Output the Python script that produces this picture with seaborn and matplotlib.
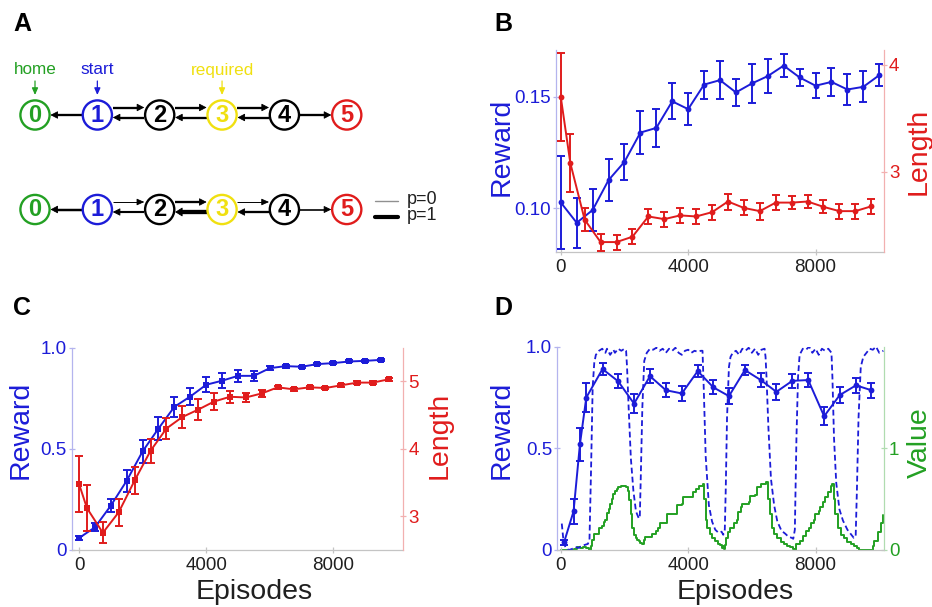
import numpy as np
import pandas as pd
import matplotlib
matplotlib.use("Agg")
import matplotlib.pyplot as plt
import seaborn as sns
from matplotlib.patches import Circle

# ------------------------------------------------------------------ data
# Panel A: chain of states
node_names = ["0", "1", "2", "3", "4", "5"]
node_kind = ["home", "start", "plain", "required", "plain", "goal"]
top_tags = ["home", "start", "", "required", "", ""]
edges = [(1, 0), (1, 2), (2, 1), (2, 3), (3, 2), (3, 4), (4, 3), (4, 5)]
p_top = [0.4, 0.4, 0.4, 0.4, 0.4, 0.4, 0.4, 0.4]
p_bottom = [0.45, 0.0, 0.35, 0.4, 1.0, 0.0, 0.4, 0.2]
legend_p = ["p=0", "p=1"]

# Panel B
b_rew_ep = [0, 500, 1000, 1500, 2000, 2500, 3000, 3500, 4000, 4500, 5000,
            5500, 6000, 6500, 7000, 7500, 8000, 8500, 9000, 9500, 10000]
b_reward = [0.1027, 0.0936, 0.0993, 0.1127, 0.1209, 0.1340, 0.1361, 0.1480,
            0.1445, 0.1555, 0.1575, 0.1520, 0.1560, 0.1593, 0.1640, 0.1587,
            0.1550, 0.1567, 0.1533, 0.1545, 0.1597]
b_reward_err = [0.021, 0.0113, 0.0093, 0.0095, 0.0082, 0.0095, 0.0084, 0.008,
                0.0072, 0.0063, 0.0084, 0.0061, 0.0088, 0.0075, 0.0052, 0.004,
                0.0055, 0.0063, 0.007, 0.007, 0.005]
b_len_ep = [0, 300, 750, 1250, 1750, 2250, 2750, 3250, 3750, 4250, 4750,
            5250, 5750, 6250, 6750, 7250, 7750, 8250, 8750, 9250, 9750]
b_length = [3.70, 3.08, 2.55, 2.34, 2.34, 2.39, 2.58, 2.555, 2.59, 2.58, 2.62,
            2.72, 2.66, 2.63, 2.71, 2.71, 2.72, 2.67, 2.63, 2.63, 2.675]
b_length_err = [0.41, 0.27, 0.11, 0.08, 0.07, 0.07, 0.07, 0.07, 0.07, 0.07,
                0.07, 0.075, 0.07, 0.08, 0.07, 0.06, 0.06, 0.06, 0.07, 0.07, 0.07]

# Panel C
c_rew_ep = [0, 500, 1000, 1500, 2000, 2500, 3000, 3500, 4000, 4500, 5000,
            5500, 6000, 6500, 7000, 7500, 8000, 8500, 9000, 9500]
c_reward = [0.059, 0.112, 0.219, 0.342, 0.487, 0.600, 0.707, 0.758, 0.816,
            0.836, 0.860, 0.860, 0.898, 0.908, 0.905, 0.918, 0.923, 0.931,
            0.934, 0.939]
c_reward_err = [0.008, 0.02, 0.033, 0.055, 0.057, 0.055, 0.051, 0.044, 0.037,
                0.036, 0.028, 0.025, 0.01, 0.008, 0.006, 0.006, 0.005, 0.005,
                0.005, 0.005]
c_len_ep = [0, 250, 750, 1250, 1750, 2250, 2750, 3250, 3750, 4250, 4750,
            5250, 5750, 6250, 6750, 7250, 7750, 8250, 8750, 9250, 9750]
c_length = [3.48, 3.12, 2.755, 3.06, 3.53, 3.97, 4.30, 4.47, 4.58, 4.70, 4.77,
            4.76, 4.82, 4.91, 4.88, 4.91, 4.90, 4.94, 4.98, 4.98, 5.03]
c_length_err = [0.42, 0.34, 0.155, 0.2, 0.2, 0.18, 0.16, 0.16, 0.15, 0.12,
                0.09, 0.07, 0.05, 0.02, 0.02, 0.02, 0.02, 0.02, 0.02, 0.02, 0.02]

# Panel D
d_rew_ep = [100, 400, 600, 800, 1310, 1800, 2300, 2800, 3300, 3800, 4300,
            4790, 5280, 5780, 6280, 6770, 7270, 7770, 8270, 8760, 9270, 9750]
d_reward = [0.037, 0.19, 0.52, 0.75, 0.89, 0.83, 0.72, 0.855, 0.786, 0.77,
            0.88, 0.80, 0.757, 0.885, 0.836, 0.778, 0.832, 0.836, 0.658,
            0.762, 0.81, 0.786]
d_reward_err = [0.01, 0.06, 0.08, 0.07, 0.03, 0.035, 0.045, 0.033, 0.035,
                0.038, 0.03, 0.035, 0.04, 0.023, 0.035, 0.038, 0.035, 0.034,
                0.043, 0.038, 0.037, 0.037]
d_rate_ep = [30, 80, 150, 250, 350, 450, 550, 650, 750, 850, 900, 950, 1000,
             1050, 1100, 1200, 1300, 1400, 1450, 1550, 1650, 1700, 1800, 1900,
             2000, 2050, 2080, 2130, 2200, 2280, 2360, 2450, 2480, 2510, 2560,
             2620, 2700, 2800, 2900, 3000, 3100, 3200, 3300, 3400, 3500, 3600,
             3700, 3800, 3900, 4000, 4100, 4200, 4300, 4400, 4450, 4490, 4550,
             4650, 4750, 4850, 4950, 5050, 5100, 5150, 5180, 5220, 5280, 5330,
             5400, 5500, 5600, 5700, 5800, 5900, 6000, 6100, 6200, 6300, 6400,
             6430, 6460, 6520, 6600, 6700, 6800, 6930, 7050, 7150, 7250, 7300,
             7350, 7400, 7450, 7500, 7600, 7700, 7800, 7900, 8000, 8100, 8200,
             8300, 8400, 8500, 8530, 8580, 8650, 8750, 8860, 9000, 9100, 9200,
             9260, 9300, 9350, 9420, 9500, 9600, 9700, 9800, 9900, 10000, 10130]
d_rate = [0.13, 0.05, 0.01, 0.0, 0.005, 0.015, 0.01, 0.02, 0.025, 0.03, 0.05,
          0.4, 0.8, 0.92, 0.96, 0.98, 0.99, 0.97, 0.99, 0.96, 0.985, 0.97, 0.99,
          0.98, 0.99, 0.98, 0.9, 0.7, 0.45, 0.29, 0.19, 0.155, 0.16, 0.35, 0.7,
          0.93, 0.97, 0.99, 0.985, 0.995, 0.98, 0.99, 0.97, 0.99, 0.98, 0.995,
          0.97, 0.96, 0.98, 0.985, 0.97, 0.98, 0.975, 0.98, 0.98, 0.79, 0.46,
          0.22, 0.14, 0.10, 0.085, 0.09, 0.075, 0.10, 0.3, 0.65, 0.9, 0.95,
          0.97, 0.98, 0.96, 0.99, 0.98, 0.995, 0.97, 0.99, 0.96, 0.985, 0.99,
          0.95, 0.85, 0.6, 0.35, 0.22, 0.14, 0.095, 0.08, 0.065, 0.06, 0.055,
          0.1, 0.55, 0.85, 0.96, 0.99, 0.985, 1.0, 0.97, 0.99, 0.96, 0.99,
          0.98, 0.99, 0.97, 0.85, 0.55, 0.33, 0.2, 0.145, 0.1, 0.08, 0.06,
          0.065, 0.3, 0.65, 0.9, 0.95, 0.97, 0.99, 0.985, 1.0, 0.97, 0.98]
d_value_ep = [0, 200, 400, 500, 600, 700, 800, 900, 950, 980, 1050, 1150, 1200,
              1300, 1350, 1400, 1450, 1500, 1550, 1600, 1650, 1700, 1750, 1800,
              1900, 2000, 2050, 2100, 2150, 2200, 2250, 2300, 2350, 2400, 2450,
              2500, 2550, 2600, 2650, 2800, 2850, 3000, 3050, 3100, 3300, 3330,
              3600, 3640, 3800, 3850, 4100, 4150, 4250, 4350, 4450, 4490, 4550,
              4600, 4680, 4750, 4850, 4950, 5000, 5050, 5100, 5130, 5150, 5200,
              5250, 5300, 5450, 5520, 5570, 5650, 5700, 5900, 5930, 6100, 6150,
              6300, 6450, 6500, 6560, 6620, 6700, 6780, 6900, 7000, 7100, 7200,
              7300, 7350, 7400, 7500, 7600, 7700, 7800, 7870, 7950, 7980, 8100,
              8130, 8230, 8300, 8400, 8500, 8530, 8570, 8620, 8700, 8800, 8900,
              9000, 9100, 9200, 9300, 9350, 9750, 9800, 9850, 9950, 10050, 10130]
d_value = [0.0, 0.0, 0.01, 0.03, 0.02, 0.03, 0.02, 0.0, 0.04, 0.1, 0.16, 0.16,
           0.22, 0.24, 0.28, 0.3, 0.36, 0.4, 0.45, 0.5, 0.55, 0.58, 0.6, 0.62,
           0.63, 0.63, 0.62, 0.58, 0.49, 0.35, 0.22, 0.15, 0.12, 0.1, 0.09,
           0.07, 0.06, 0.1, 0.125, 0.125, 0.16, 0.19, 0.22, 0.27, 0.27, 0.355,
           0.355, 0.44, 0.45, 0.52, 0.52, 0.57, 0.6, 0.63, 0.65, 0.5, 0.3,
           0.22, 0.16, 0.12, 0.09, 0.06, 0.05, 0.02, 0.04, 0.01, 0.05, 0.12,
           0.18, 0.22, 0.27, 0.3, 0.37, 0.42, 0.45, 0.47, 0.535, 0.54, 0.62,
           0.65, 0.67, 0.5, 0.35, 0.22, 0.16, 0.12, 0.08, 0.06, 0.04, 0.03,
           0.01, 0.0, 0.06, 0.09, 0.14, 0.19, 0.22, 0.27, 0.3, 0.355, 0.38,
           0.42, 0.47, 0.52, 0.57, 0.63, 0.65, 0.5, 0.35, 0.22, 0.15, 0.12,
           0.08, 0.06, 0.04, 0.02, 0.0, 0.0, 0.04, 0.09, 0.18, 0.27, 0.34]

x_ticks = [0, 4000, 8000]

# ------------------------------------------------------------------ style
sns.set_theme(style="white")
plt.rcParams["font.family"] = ["Liberation Sans", "DejaVu Sans"]

BLUE = "#1c1cd8"
RED = "#e01c1c"
GREEN = "#23a023"
YELLOW = "#f0e010"
SP_BLUE = "#b4b4ee"
SP_RED = "#f2b0b0"
SP_GREEN = "#b0dcb0"
SP_GRAY = "#c4c4c4"
kind_color = {"home": GREEN, "start": BLUE, "plain": "black",
              "required": YELLOW, "goal": RED}

W, H = 932, 607
fig = plt.figure(figsize=(W / 100, H / 100), dpi=100)


def rect(l, t, r, b):
    return [l / W, 1 - b / H, (r - l) / W, (b - t) / H]


def ftext(x, y, s, **kw):
    fig.text(x / W, 1 - y / H, s, **kw)


# ------------------------------------------------------------------ panel A
axA = fig.add_axes([0, 0.5, 0.5, 0.5])
axA.set_xlim(0, W / 2)
axA.set_ylim(H / 2, 0)
axA.axis("off")

x0, dx, R = 35.0, 62.35, 14.6
rows_y = [115.0, 209.5]
cx = [x0 + i * dx for i in range(len(node_names))]


def arrow(ax, xs, xe, y, lw, col="black", hw=0.22):
    d = 1 if xe > xs else -1
    ax.plot([xs, xe - d * 4], [y, y], color=col, lw=lw, solid_capstyle="butt",
            zorder=2)
    ax.annotate("", xy=(xe, y), xytext=(xe - d * 7, y),
                arrowprops=dict(arrowstyle=f"-|>,head_length=0.45,head_width={hw}",
                                lw=0.6, color=col, shrinkA=0, shrinkB=0,
                                mutation_scale=10), zorder=2)


for ry, plist in zip(rows_y, [p_top, p_bottom]):
    for i, name in enumerate(node_names):
        col = kind_color[node_kind[i]]
        axA.add_patch(Circle((cx[i], ry), R, facecolor="white", edgecolor=col,
                             lw=1.7, zorder=3))
        axA.text(cx[i], ry + 0.5, name, color=col, fontsize=17,
                 fontweight="bold", ha="center", va="center", zorder=4)
    for (a, b), p in zip(edges, plist):
        pair = (b, a) in edges
        if b > a:
            y = ry - 7.5 if pair else ry
            xs, xe = cx[a] + R + 0.8, cx[b] - R - 0.8
        else:
            y = ry + 2.5 if pair else ry
            xs, xe = cx[a] - R - 0.8, cx[b] + R + 0.8
        arrow(axA, xs, xe, y, 0.7 + 2.4 * p, hw=0.2 + 0.08 * p)

for i, tag in enumerate(top_tags):
    if not tag:
        continue
    col = kind_color[node_kind[i]]
    axA.text(cx[i], 70, tag, color=col, fontsize=12.3, ha="center", va="center")
    axA.annotate("", xy=(cx[i], 95), xytext=(cx[i], 81),
                 arrowprops=dict(arrowstyle="-|>,head_length=0.45,head_width=0.2",
                                 lw=0.9, color=col, shrinkA=0, shrinkB=0,
                                 mutation_scale=9))

axA.plot([375, 398], [200.5, 200.5], color="#909090", lw=1.0)
axA.plot([375, 398], [216.5, 216.5], color="black", lw=3.0)
axA.text(407, 199, legend_p[0], fontsize=13, ha="left", va="center", color="#202020")
axA.text(407, 215.5, legend_p[1], fontsize=13, ha="left", va="center", color="#202020")


# ------------------------------------------------------------------ helpers
def style_pair(ax, ax2, lcol, rcol, lspine, rspine):
    for s in ["top", "right"]:
        ax.spines[s].set_visible(False)
    ax.spines["left"].set_color(lspine)
    ax.spines["bottom"].set_color(SP_GRAY)
    for s in ["top", "left", "bottom"]:
        ax2.spines[s].set_visible(False)
    ax2.spines["right"].set_visible(True)
    ax2.spines["right"].set_color(rspine)
    for sp in list(ax.spines.values()) + list(ax2.spines.values()):
        sp.set_linewidth(0.9)
    ax.tick_params(axis="y", colors=lspine, labelcolor=lcol, labelsize=13.5,
                   direction="inout", length=4, width=0.9, pad=1.5, left=True)
    ax.tick_params(axis="x", colors=SP_GRAY, labelcolor="#202020",
                   labelsize=13.5, direction="inout", length=4, width=0.9,
                   pad=3, bottom=True)
    ax2.tick_params(axis="y", colors=rspine, labelcolor=rcol, labelsize=13.5,
                    direction="inout", length=4, width=0.9, pad=1.5, right=True)
    ax.set_xticks(x_ticks)
    ax.set_xticklabels([str(t) for t in x_ticks])
    ax.set_xlabel("")
    ax.set_ylabel("")
    ax2.set_ylabel("")
    ax.grid(False)
    ax2.grid(False)
    ax.patch.set_alpha(0)


def series(ax, x, y, err, col, marker):
    sns.lineplot(x=x, y=y, ax=ax, color=col, lw=1.4, marker=marker,
                 markersize=4.2, markeredgewidth=0, markeredgecolor=col,
                 estimator=None, sort=False, zorder=3)
    ax.errorbar(x, y, yerr=err, fmt="none", ecolor=col, elinewidth=1.4,
                capsize=2.6, capthick=1.4, zorder=3)


# ------------------------------------------------------------------ panel B
axB = fig.add_axes(rect(556, 50, 884, 252))
axB2 = axB.twinx()
series(axB, b_rew_ep, b_reward, b_reward_err, BLUE, "o")
series(axB2, b_len_ep, b_length, b_length_err, RED, "o")
axB.set_xlim(-150, 10150)
axB.set_ylim(0.0805, 0.171)
axB2.set_ylim(2.247, 4.14)
axB.set_yticks([0.10, 0.15])
axB.set_yticklabels(["0.10", "0.15"])
axB2.set_yticks([3, 4])
axB2.set_yticklabels(["3", "4"])
style_pair(axB, axB2, BLUE, RED, SP_BLUE, SP_RED)

# ------------------------------------------------------------------ panel C
axC = fig.add_axes(rect(71.7, 347.5, 403.3, 550))
axC2 = axC.twinx()
series(axC, c_rew_ep, c_reward, c_reward_err, BLUE, "s")
series(axC2, c_len_ep, c_length, c_length_err, RED, "s")
axC.set_xlim(-230, 10200)
axC.set_ylim(0, 1.0)
axC2.set_ylim(2.5, 5.5)
axC.set_yticks([0, 0.5, 1.0])
axC.set_yticklabels(["0", "0.5", "1.0"])
axC2.set_yticks([3, 4, 5])
axC2.set_yticklabels(["3", "4", "5"])
style_pair(axC, axC2, BLUE, RED, SP_BLUE, SP_RED)

# ------------------------------------------------------------------ panel D
axD = fig.add_axes(rect(557, 346.7, 884, 550))
axD2 = axD.twinx()
sns.lineplot(x=d_value_ep, y=d_value, ax=axD2, color=GREEN, lw=1.4,
             estimator=None, sort=False, drawstyle="steps-post")
sns.lineplot(x=d_rate_ep, y=d_rate, ax=axD, color=BLUE, lw=1.3,
             estimator=None, sort=False, linestyle=(0, (3.2, 1.8)))
series(axD, d_rew_ep, d_reward, d_reward_err, BLUE, "o")
axD.set_zorder(axD2.get_zorder() + 1)
axD.set_xlim(-120, 10150)
axD.set_ylim(0, 1.0)
axD2.set_ylim(0, 2.0)
axD.set_yticks([0, 0.5, 1.0])
axD.set_yticklabels(["0", "0.5", "1.0"])
axD2.set_yticks([0, 1])
axD2.set_yticklabels(["0", "1"])
style_pair(axD, axD2, BLUE, GREEN, SP_BLUE, SP_GREEN)

# ------------------------------------------------------------------ labels
big = dict(fontsize=20.5, ha="center", va="center", rotation=90)
ftext(502, 147, "Reward", color=BLUE, **big)
ftext(919, 151, "Length", color=RED, **big)
ftext(21, 430, "Reward", color=BLUE, **big)
ftext(440, 435, "Length", color=RED, **big)
ftext(502, 430, "Reward", color=BLUE, **big)
ftext(920, 443, "Value", color=GREEN, **big)
ftext(254, 592, "Episodes", fontsize=20.5, ha="center", va="center", color="#202020")
ftext(735, 592, "Episodes", fontsize=20.5, ha="center", va="center", color="#202020")

pl = dict(fontsize=18, fontweight="bold", ha="center", va="center", color="black")
ftext(22.5, 24, "A", **pl)
ftext(503, 24, "B", **pl)
ftext(22.5, 308, "C", **pl)
ftext(503, 308, "D", **pl)

fig.savefig("out.png", dpi=100, facecolor="white")
